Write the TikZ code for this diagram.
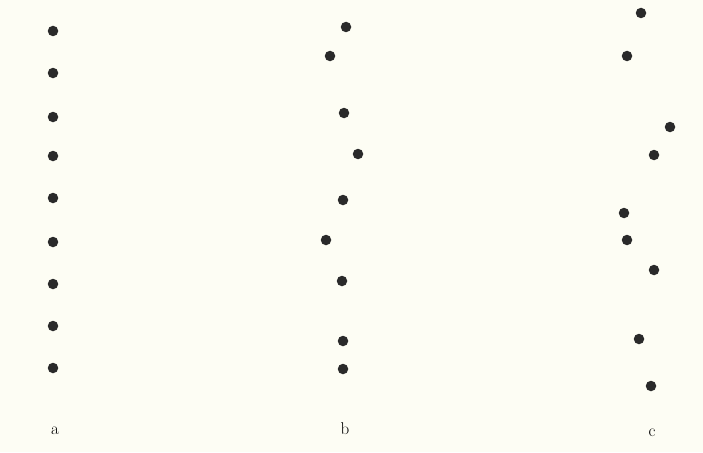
\documentclass[tikz,border=0pt]{standalone}
\usepackage{xcolor}
\usepackage{tikz}
\usetikzlibrary{positioning}
\definecolor{paper}{HTML}{FDFDF4}
\definecolor{ink}{HTML}{2A2A2A}

\begin{document}
\begin{tikzpicture}[x=1pt, y=-1pt,
    dot/.style={circle, fill=ink, inner sep=0pt, minimum size=10.5pt},
    colname/.style={anchor=base, inner sep=0pt, font=\fontsize{17}{19}\selectfont}]
  % page
  \fill[paper] (0,0) rectangle (703,452);
  \useasboundingbox (0,0) rectangle (703,452);

  % column a: even spacing
  \foreach \y [count=\i] in {31,73,117,156,198,242,284,326,368}
    \node[dot] (a\i) at (53,\y) {};

  % column b: small sideways jitter
  \foreach \x/\y [count=\i] in {346/27, 330/56, 344/113, 358/154, 343/200,
                                326/240, 342/281, 343/341, 343/369}
    \node[dot] (b\i) at (\x,\y) {};

  % column c: larger jitter
  \foreach \x/\y [count=\i] in {641/13, 627/56, 670/127, 654/155, 624/213,
                                627/240, 654/270, 639/339, 651/386}
    \node[dot] (c\i) at (\x,\y) {};

  % captions
  \node[colname] (capa) at (55,434) {a};
  \node[colname] (capb) at (345,434) {b};
  \node[colname] (capc) at (652,436) {c};
\end{tikzpicture}
\end{document}
